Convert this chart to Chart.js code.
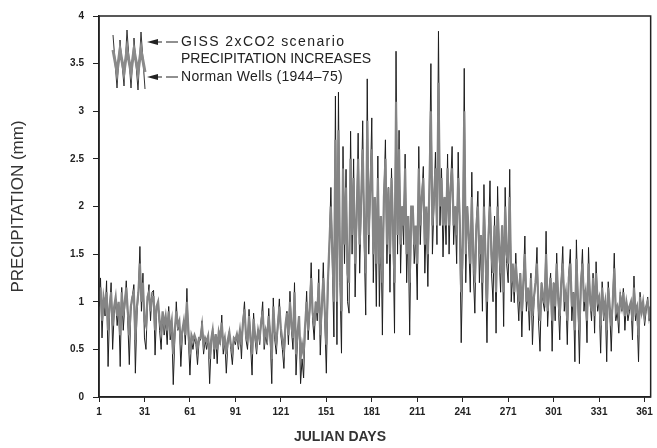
<!DOCTYPE html>
<html>
<head>
<meta charset="utf-8">
<title>Precipitation - Norman Wells</title>
<script src="https://cdn.jsdelivr.net/npm/chart.js@4.4.1/dist/chart.umd.min.js"></script>
<style>
  body { margin: 0; background: #fff; }
  #wrap { width: 657px; height: 448px; }
</style>
</head>
<body>
<div id="wrap"><canvas id="myChart" width="657" height="448"></canvas></div>
<script>
// tick labels on the x axis (julian days)
var tickDays = [1, 31, 61, 91, 121, 151, 181, 211, 241, 271, 301, 331, 361];

// Norman Wells (1944-75) daily precipitation, mm, days 1..365
var normanWells = [
  0.95, 1.25, 0.62, 1.05, 0.85, 1.22, 0.32, 0.9, 1.2, 0.5,
  0.88, 1.0, 0.75, 0.95, 0.32, 1.15, 0.7, 0.95, 1.22, 0.8,
  0.34, 0.9, 1.05, 1.18, 0.25, 0.85, 1.1, 1.58, 0.9, 1.3,
  0.62, 0.5, 1.0, 1.18, 0.8, 1.1, 1.12, 0.44, 0.9, 1.0,
  0.7, 0.5, 0.88, 0.65, 0.8, 0.55, 0.95, 0.6, 0.75, 0.13,
  0.6, 1.0, 0.7, 0.78, 0.32, 0.65, 0.8, 0.55, 1.14, 0.6,
  0.23, 0.6, 0.5, 0.62, 0.55, 0.34, 0.58, 0.6, 0.8, 0.45,
  0.6, 0.5, 0.62, 0.14, 0.55, 0.72, 0.4, 0.65, 0.35, 0.7,
  0.55, 0.86, 0.45, 0.6, 0.25, 0.55, 0.69, 0.5, 0.34, 0.6,
  0.55, 0.65, 0.5, 0.7, 0.4, 0.8, 1.0, 0.6, 0.5, 0.92,
  0.55, 0.23, 0.88, 0.6, 0.45, 0.71, 0.55, 0.8, 1.0, 0.5,
  0.65, 0.55, 0.93, 0.6, 0.14, 1.04, 0.6, 0.45, 0.75, 1.03,
  0.65, 0.5, 0.3, 0.7, 0.9, 0.55, 1.11, 0.7, 0.5, 1.2,
  0.23, 0.6, 0.85, 0.14, 0.4, 0.2, 0.7, 1.11, 0.6, 0.9,
  1.41, 0.8, 0.6, 1.0, 0.8, 1.34, 0.44, 0.9, 1.41, 0.8,
  0.25, 1.1, 1.6, 2.2, 1.4, 0.63, 3.16, 0.55, 3.2, 1.2,
  0.46, 2.63, 1.4, 2.39, 1.0, 0.88, 2.79, 1.5, 2.5, 1.05,
  1.8, 2.77, 1.3, 2.0, 2.9, 1.6, 0.86, 3.34, 1.5, 2.2,
  2.93, 1.2, 2.0, 0.95, 2.53, 0.95, 1.8, 0.65, 2.1, 2.7,
  1.4, 2.2, 1.1, 2.4, 1.7, 0.67, 3.63, 1.5, 2.8, 1.3,
  2.0, 1.6, 2.55, 1.2, 1.8, 0.65, 1.9, 2.0, 1.4, 1.7,
  1.02, 2.63, 1.6, 2.1, 2.42, 1.3, 1.9, 1.16, 2.2, 3.5,
  1.5, 2.0, 2.57, 1.6, 3.84, 1.8, 2.4, 1.47, 2.1, 1.6,
  2.55, 1.5, 2.2, 2.63, 1.6, 2.0, 1.4, 2.57, 1.8, 0.57,
  1.4, 3.45, 1.2, 2.0, 1.6, 1.1, 2.36, 1.3, 0.88, 1.8,
  2.16, 1.2, 1.6, 0.9, 2.23, 1.4, 0.57, 1.7, 2.27, 1.3,
  1.0, 1.9, 0.67, 2.21, 1.5, 1.1, 1.8, 0.74, 2.2, 1.4,
  1.2, 2.39, 1.0, 1.3, 0.99, 1.51, 1.1, 0.8, 1.3, 0.63,
  1.2, 1.69, 0.9, 1.1, 0.7, 1.3, 0.55, 1.0, 1.2, 1.57,
  0.8, 0.48, 1.2, 1.0, 0.9, 1.74, 0.74, 1.1, 1.3, 0.48,
  1.2, 0.8, 1.51, 1.0, 0.6, 1.2, 1.58, 0.9, 1.1, 0.55,
  1.3, 1.55, 0.8, 1.1, 0.37, 1.65, 1.0, 0.35, 1.2, 1.55,
  0.9, 1.1, 0.57, 1.57, 1.0, 0.8, 1.3, 0.67, 1.42, 0.9,
  1.0, 0.46, 1.21, 0.8, 1.0, 0.37, 1.21, 0.9, 0.48, 1.0,
  1.51, 0.8, 0.9, 0.67, 1.1, 0.9, 1.14, 0.7, 1.0, 0.8,
  0.9, 1.0, 0.6, 1.27, 0.8, 0.9, 0.37, 1.1, 0.85, 1.0,
  0.75, 0.9, 1.05, 0.8, 0.95
];

// GISS 2xCO2 scenario precipitation increases, mm, days 1..365
var gissScenario = [
  1.0, 1.15, 0.8, 1.05, 0.95, 1.1, 0.7, 0.95, 1.1, 0.75,
  0.95, 1.05, 0.85, 1.0, 0.65, 1.1, 0.85, 1.0, 1.15, 0.9,
  0.65, 0.95, 1.05, 1.1, 0.6, 0.95, 1.1, 1.4, 1.0, 1.2,
  0.8, 0.75, 1.05, 1.1, 0.9, 1.05, 1.05, 0.7, 0.95, 1.0,
  0.8, 0.7, 0.9, 0.75, 0.85, 0.7, 0.9, 0.7, 0.8, 0.45,
  0.7, 0.9, 0.75, 0.8, 0.55, 0.7, 0.8, 0.65, 1.0, 0.7,
  0.45, 0.65, 0.6, 0.65, 0.6, 0.5, 0.62, 0.62, 0.75, 0.55,
  0.62, 0.58, 0.64, 0.4, 0.6, 0.7, 0.5, 0.66, 0.5, 0.68,
  0.6, 0.78, 0.55, 0.62, 0.45, 0.6, 0.68, 0.55, 0.48, 0.62,
  0.6, 0.66, 0.58, 0.7, 0.55, 0.78, 0.92, 0.65, 0.6, 0.85,
  0.62, 0.45, 0.82, 0.65, 0.55, 0.7, 0.62, 0.78, 0.9, 0.6,
  0.7, 0.62, 0.85, 0.65, 0.4, 0.95, 0.68, 0.58, 0.75, 0.95,
  0.72, 0.6, 0.5, 0.75, 0.88, 0.65, 1.0, 0.75, 0.62, 1.1,
  0.45, 0.68, 0.85, 0.4, 0.55, 0.45, 0.75, 1.0, 0.7, 0.92,
  1.25, 0.88, 0.75, 1.0, 0.88, 1.2, 0.65, 0.95, 1.25, 0.9,
  0.55, 1.2, 1.6, 2.0, 1.5, 1.0, 2.7, 1.0, 2.8, 1.5,
  0.9, 2.4, 1.6, 2.2, 1.3, 1.2, 2.5, 1.7, 2.3, 1.4,
  1.9, 2.5, 1.6, 2.1, 2.6, 1.8, 1.3, 2.9, 1.7, 2.2,
  2.6, 1.5, 2.1, 1.4, 2.3, 1.4, 1.9, 1.2, 2.1, 2.5,
  1.6, 2.2, 1.5, 2.3, 1.8, 1.2, 3.1, 1.7, 2.6, 1.6,
  2.0, 1.8, 2.4, 1.5, 1.9, 1.2, 2.0, 2.0, 1.6, 1.8,
  1.4, 2.4, 1.8, 2.1, 2.3, 1.6, 2.0, 1.5, 2.2, 3.0,
  1.8, 2.1, 2.4, 1.8, 3.3, 2.0, 2.3, 1.8, 2.1, 1.8,
  2.4, 1.8, 2.2, 2.4, 1.8, 2.0, 1.7, 2.3, 1.9, 1.1,
  1.6, 3.0, 1.5, 2.0, 1.7, 1.4, 2.1, 1.5, 1.2, 1.8,
  2.0, 1.5, 1.7, 1.2, 2.0, 1.5, 1.0, 1.7, 2.0, 1.5,
  1.3, 1.8, 1.1, 2.0, 1.6, 1.3, 1.8, 1.1, 2.0, 1.5,
  1.4, 2.1, 1.2, 1.4, 1.1, 1.4, 1.2, 1.0, 1.3, 0.9,
  1.2, 1.5, 1.0, 1.15, 0.9, 1.25, 0.85, 1.05, 1.2, 1.4,
  0.95, 0.8, 1.2, 1.05, 1.0, 1.5, 0.9, 1.1, 1.25, 0.8,
  1.2, 0.95, 1.4, 1.05, 0.85, 1.2, 1.4, 1.0, 1.1, 0.8,
  1.25, 1.4, 0.95, 1.1, 0.7, 1.45, 1.05, 0.7, 1.2, 1.4,
  1.0, 1.1, 0.8, 1.4, 1.05, 0.9, 1.25, 0.85, 1.3, 1.0,
  1.05, 0.75, 1.15, 0.9, 1.0, 0.7, 1.15, 0.95, 0.75, 1.0,
  1.35, 0.9, 0.95, 0.85, 1.05, 0.95, 1.1, 0.85, 1.0, 0.9,
  0.95, 1.0, 0.8, 1.15, 0.9, 0.95, 0.65, 1.05, 0.9, 1.0,
  0.85, 0.95, 1.0, 0.85, 0.95
];

var ctx = document.getElementById("myChart");

// julian days 1..365 for the x values
var days = [];
for (let i = 1; i <= normanWells.length; i++) days.push(i);

function toPoints(vals){
    return vals.map(function(v, i){ return {x: days[i], y: v}; });
}

// box round the plot, x title (sits left of centre in the original) and the legend
var frameAndLegend = {
    id: 'frameAndLegend',
    afterDraw: function(chart){
        var c = chart.ctx, a = chart.chartArea;
        c.save();
        c.strokeStyle = '#222';
        c.lineWidth = 1.5;
        c.strokeRect(a.left, a.top, a.right - a.left, a.bottom - a.top);

        c.fillStyle = '#333';
        c.font = 'bold 14px Arial, "Liberation Sans", sans-serif';
        c.textAlign = 'center';
        c.textBaseline = 'middle';
        c.fillText('JULIAN DAYS', 340, 437);

        // legend icon: zigzag sample
        var zx = [113, 117, 120, 124, 127, 131, 134, 138, 141, 145];
        var zyHi = [35, 88, 40, 86, 30, 88, 38, 90, 32, 89];
        c.lineWidth = 1;
        c.strokeStyle = '#333';
        c.beginPath();
        for (let i = 0; i < zx.length; i++){
            if (i == 0) c.moveTo(zx[i], zyHi[i]); else c.lineTo(zx[i], zyHi[i]);
        }
        c.stroke();
        c.strokeStyle = '#8a8a8a';
        c.lineWidth = 3;
        c.beginPath();
        for (let i = 0; i < zx.length; i++){
            var yy = i % 2 ? 72 : 50;
            if (i == 0) c.moveTo(zx[i], yy); else c.lineTo(zx[i], yy);
        }
        c.stroke();

        // arrows
        c.fillStyle = '#222';
        c.strokeStyle = '#222';
        c.lineWidth = 1.2;
        [42, 77].forEach(function(y){
            c.beginPath();
            c.moveTo(147, y); c.lineTo(158, y - 3); c.lineTo(158, y + 3); c.closePath();
            c.fill();
            c.beginPath();
            c.moveTo(158, y); c.lineTo(162, y);
            c.moveTo(166, y); c.lineTo(178, y);
            c.stroke();
        });

        c.font = '14px Arial, "Liberation Sans", sans-serif';
        c.textAlign = 'left';
        c.letterSpacing = '1.4px';
        c.fillText('GISS 2xCO2 scenario', 181, 42);
        c.letterSpacing = '0px';
        c.fillText('PRECIPITATION INCREASES', 181, 59);
        c.letterSpacing = '0.3px';
        c.fillText('Norman Wells (1944\u201375)', 181, 77);
        c.restore();
    }
};

var chart = new Chart(ctx, {
    type: 'line',
    data: {
        datasets: [{
            label: 'GISS 2xCO2 scenario PRECIPITATION INCREASES',
            data: toPoints(gissScenario),
            borderColor: '#858585',
            borderWidth: 2.2,
            pointRadius: 0,
            tension: 0,
            order: 0
        }, {
            label: 'Norman Wells (1944-75)',
            data: toPoints(normanWells),
            borderColor: '#1e1e1e',
            borderWidth: 1,
            pointRadius: 0,
            tension: 0,
            order: 1
        }]
    },
    options: {
        responsive: false,
        animation: false,
        layout: { padding: { top: 16, right: 6, left: 0, bottom: 0 } },
        plugins: {
            legend: { display: false },
            tooltip: { enabled: false }
        },
        scales: {
            x: {
                type: 'linear',
                min: 1,
                max: 365,
                afterFit: function(s){ s.height = 51; },
                afterBuildTicks: function(s){
                    s.ticks = tickDays.map(function(d){ return {value: d}; });
                },
                grid: { display: true, drawOnChartArea: false, tickLength: 5, color: '#222' },
                border: { display: true, color: '#222', width: 1.5 },
                ticks: {
                    color: '#222',
                    font: { family: 'Arial', size: 10, weight: 'bold' },
                    maxRotation: 0,
                    padding: 4
                },
                title: { display: false }
            },
            y: {
                min: 0,
                max: 4,
                afterFit: function(s){ s.width = 99; },
                grid: { display: true, drawOnChartArea: false, tickLength: 6, color: '#222' },
                border: { display: true, color: '#222', width: 1.5 },
                ticks: {
                    stepSize: 0.5,
                    color: '#222',
                    font: { family: 'Arial', size: 10, weight: 'bold' },
                    padding: 9,
                    callback: function(v){ return String(v); }
                },
                title: {
                    display: true,
                    text: 'PRECIPITATION (mm)',
                    color: '#333',
                    font: { family: 'Arial', size: 17 },
                    padding: 8
                }
            }
        }
    },
    plugins: [frameAndLegend]
});
</script>
</body>
</html>
